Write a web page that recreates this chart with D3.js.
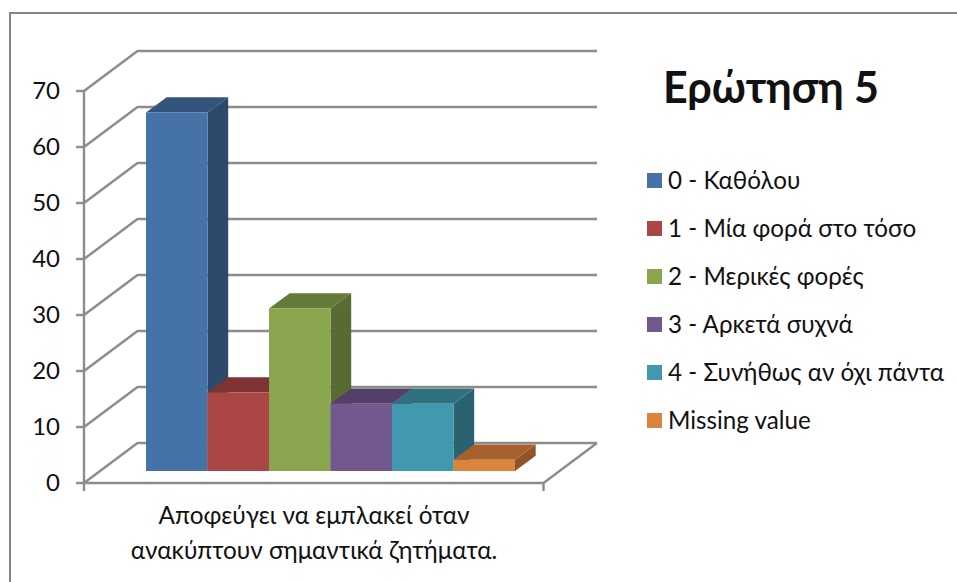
<!DOCTYPE html>
<html lang="el">
<head>
<meta charset="utf-8">
<script src="https://cdn.jsdelivr.net/npm/d3@7"></script>
<style>
html,body{margin:0;padding:0;background:#fff;}
svg{display:block;}
text{font-family:Lato,"Open Sans","Noto Sans",sans-serif;fill:#111;}
</style>
</head>
<body>
<div id="chart"></div>
<script>
// Chart content
const seriesNames = ["0 - Καθόλου","1 - Μία φορά στο τόσο","2 - Μερικές φορές","3 - Αρκετά συχνά","4 - Συνήθως αν όχι πάντα","Missing value"];
const seriesValues = [64,14,29,12,12,2];
const frontColors = ["#4572a7","#aa4643","#89a54e","#71588f","#4198af","#db843d"];
const topColors = ["#34547c","#7f3332","#667b3a","#543f6b","#30717f","#a5622e"];
const sideColors = ["#2d4a6c","#6e2c2b","#596b33","#493a5e","#2a6272","#8f5527"];
const yTicks = [0,10,20,30,40,50,60,70];
const categoryLines = ["Αποφεύγει να εμπλακεί όταν","ανακύπτουν σημαντικά ζητήματα."];
const chartTitle = "Ερώτηση 5";

const W = 957, H = 582;
const gridColor = "#8c8c8c";
const floor = {x0:84, x1:543.5, y:483};        // front edge of the floor
const wall = {dx:53.5, dy:-40};                // shift from the front plane to the back wall
const barOffset = {dx:62, dy:-12};             // bars stand part way into the floor
const barDepth = {dx:20.7, dy:-15.3};
const barWidth = 61.5;

const svg = d3.select("#chart").append("svg").attr("width",W).attr("height",H);

// Outer frame: only the top and left edges fall inside the canvas
svg.append("path").attr("d",d3.line()([[10,H],[10,13],[W,13]]))
  .attr("fill","none").attr("stroke","#868686").attr("stroke-width",2);

const y = d3.scaleLinear().domain([0,70]).range([floor.y,91]);
const x = d3.scaleBand().domain(d3.range(seriesValues.length))
  .range([floor.x0+barOffset.dx, floor.x0+barOffset.dx+barWidth*seriesValues.length]);

const grid = svg.append("g").attr("fill","none").attr("stroke",gridColor).attr("stroke-width",2.4);
const line = d3.line();

// Wall gridlines with their diagonal run along the side wall
yTicks.forEach(t=>{
  const yy = y(t);
  grid.append("path").attr("d",line([[floor.x0,yy],[floor.x0+wall.dx,yy+wall.dy],[floor.x1+wall.dx,yy+wall.dy]]));
});
// Floor outline and axes
grid.append("path").attr("d",line([[floor.x0,floor.y],[floor.x1,floor.y],[floor.x1+wall.dx,floor.y+wall.dy]]));
grid.append("path").attr("d",line([[floor.x0,y(70)],[floor.x0,floor.y+8]]));
grid.append("path").attr("d",line([[floor.x1,floor.y],[floor.x1,floor.y+8]]));
yTicks.forEach(t=>{
  grid.append("path").attr("d",line([[floor.x0-8,y(t)],[floor.x0,y(t)]]));
});

// Tick labels
svg.append("g").selectAll("text").data(yTicks).join("text")
  .attr("x",60).attr("y",d=>y(d)).attr("dy","0.35em").attr("text-anchor","end")
  .attr("font-size",24).text(d=>d);

// Bars are painted left to right so each front face overlaps its neighbour's side
const bars = svg.append("g").selectAll("g").data(seriesValues).join("g");
const poly = pts => "M"+pts.join("L")+"Z";
const edges = (v,i)=>{
  const l = x(i), r = l+x.bandwidth();
  const b = y(0)+barOffset.dy, t = y(v)+barOffset.dy;
  return {l,r,b,t};
};
bars.append("path").attr("fill",(d,i)=>sideColors[i]).attr("d",(d,i)=>{
  const e = edges(d,i);
  return poly([[e.r,e.t],[e.r+barDepth.dx,e.t+barDepth.dy],[e.r+barDepth.dx,e.b+barDepth.dy],[e.r,e.b]]);
});
bars.append("path").attr("fill",(d,i)=>topColors[i]).attr("d",(d,i)=>{
  const e = edges(d,i);
  return poly([[e.l,e.t],[e.l+barDepth.dx,e.t+barDepth.dy],[e.r+barDepth.dx,e.t+barDepth.dy],[e.r,e.t]]);
});
bars.append("path").attr("fill",(d,i)=>frontColors[i]).attr("d",(d,i)=>{
  const e = edges(d,i);
  return poly([[e.l,e.t],[e.r,e.t],[e.r,e.b],[e.l,e.b]]);
});

// Category label under the floor
svg.append("g").selectAll("text").data(categoryLines).join("text")
  .attr("x",314).attr("y",(d,i)=>524+i*35).attr("text-anchor","middle")
  .attr("font-size",24.3).text(d=>d);

// Title
svg.append("text").attr("x",771).attr("y",103).attr("text-anchor","middle")
  .attr("font-size",43).attr("font-weight",700).text(chartTitle);

// Legend
const legend = svg.append("g").selectAll("g").data(seriesNames).join("g")
  .attr("transform",(d,i)=>`translate(647,${180.5+48*i})`);
legend.append("rect").attr("x",0).attr("y",-7.5).attr("width",15).attr("height",15)
  .attr("fill",(d,i)=>frontColors[i]);
legend.append("text").attr("x",21).attr("y",0.5).attr("dy","0.35em")
  .attr("font-size",24.2).text(d=>d);
</script>
</body>
</html>
